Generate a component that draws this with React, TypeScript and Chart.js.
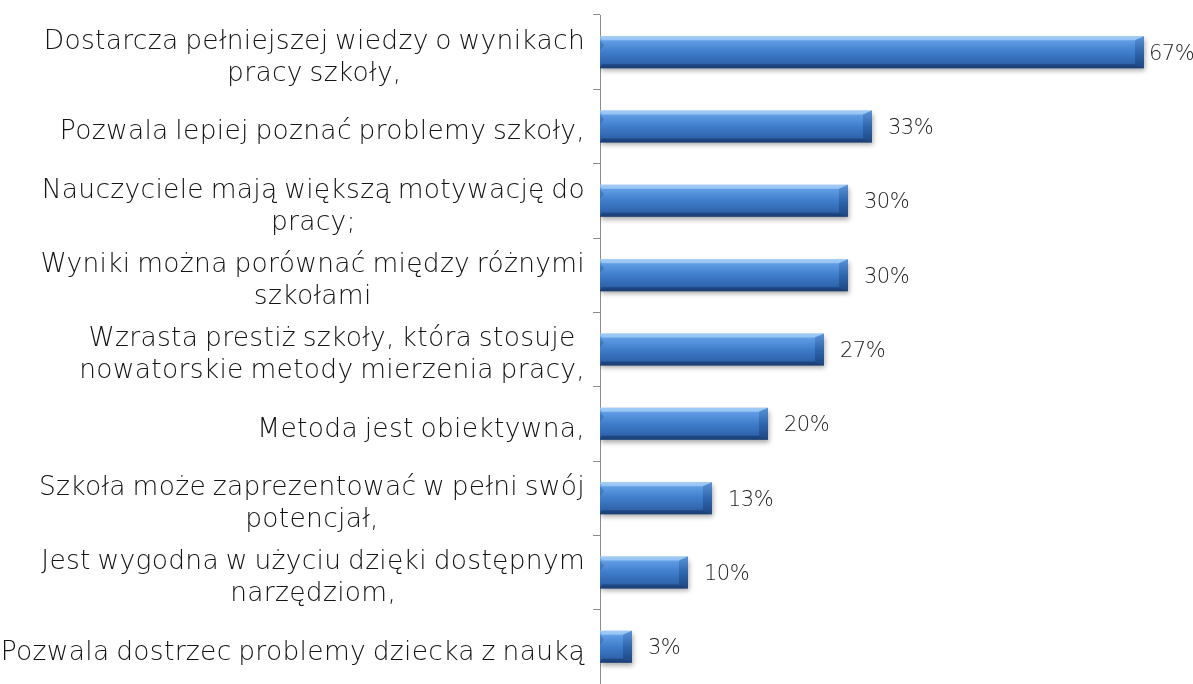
import React, { useEffect, useRef } from 'react';
import { Chart, registerables } from 'chart.js';
Chart.register(...registerables);

const categories: string[][] = [
  ['Dostarcza pełniejszej wiedzy o wynikach', 'pracy szkoły,'],
  ['Pozwala lepiej poznać problemy szkoły,'],
  ['Nauczyciele mają większą motywację do', 'pracy;'],
  ['Wyniki można porównać między różnymi', 'szkołami'],
  ['Wzrasta prestiż szkoły, która stosuje', 'nowatorskie metody mierzenia pracy,'],
  ['Metoda jest obiektywna,'],
  ['Szkoła może zaprezentować w pełni swój', 'potencjał,'],
  ['Jest wygodna w użyciu dzięki dostępnym', 'narzędziom,'],
  ['Pozwala dostrzec problemy dziecka z nauką'],
];
const values: number[] = [67, 33, 30, 30, 27, 20, 13, 10, 3];
const valueLabels: string[] = values.map((v) => v + '%');

const LABEL_FONT = '200 26.5px "DejaVu Sans"';
const VALUE_FONT = '200 21px "DejaVu Sans"';

export default function App() {
  const ref = useRef<HTMLCanvasElement>(null);
  useEffect(() => {
    document.body.style.margin = '0';
    const canvas = ref.current!;

    const barDeco = {
      id: 'barDeco',
      beforeDatasetsDraw(chart: any) {
        const ctx = chart.ctx;
        ctx.save();
        ctx.shadowColor = 'rgba(0,0,0,0.35)';
        ctx.shadowBlur = 5;
        ctx.shadowOffsetY = 3;
        ctx.shadowOffsetX = 1;
      },
      afterDatasetsDraw(chart: any) {
        const ctx = chart.ctx;
        ctx.restore();
        const meta = chart.getDatasetMeta(0);
        ctx.save();
        meta.data.forEach((bar: any) => {
          const x1 = Math.min(bar.base, bar.x);
          const x2 = Math.max(bar.base, bar.x);
          const y1 = bar.y - bar.height / 2;
          const y2 = bar.y + bar.height / 2;
          if (![x1, x2, y1, y2].every(Number.isFinite)) return;
          const b = Math.min(9, (x2 - x1) / 2);
          const t = 4;
          ctx.fillStyle = 'rgba(170,210,250,0.7)';
          ctx.beginPath();
          ctx.moveTo(x1, y1); ctx.lineTo(x2, y1); ctx.lineTo(x2 - b, y1 + t); ctx.lineTo(x1 + 2, y1 + t); ctx.closePath();
          ctx.fill();
          ctx.fillStyle = 'rgba(20,50,100,0.5)';
          ctx.beginPath();
          ctx.moveTo(x1, y2); ctx.lineTo(x2, y2); ctx.lineTo(x2 - b, y2 - t); ctx.lineTo(x1 + 2, y2 - t); ctx.closePath();
          ctx.fill();
          const g = ctx.createLinearGradient(0, y1, 0, y2);
          g.addColorStop(0, '#5a93d8');
          g.addColorStop(0.5, '#2f66ad');
          g.addColorStop(1, '#1d4680');
          ctx.fillStyle = g;
          ctx.beginPath();
          ctx.moveTo(x2, y1); ctx.lineTo(x2, y2); ctx.lineTo(x2 - b, y2 - t); ctx.lineTo(x2 - b, y1 + t); ctx.closePath();
          ctx.fill();
          ctx.fillStyle = 'rgba(30,70,130,0.3)';
          ctx.beginPath();
          ctx.moveTo(x1, y1 + t); ctx.lineTo(x1 + 4, y1 + t + 5); ctx.lineTo(x1, y1 + t + 10); ctx.closePath();
          ctx.fill();
        });
        ctx.restore();

        ctx.save();
        ctx.font = VALUE_FONT;
        ctx.fillStyle = '#1e1e1e';
        ctx.textAlign = 'left';
        ctx.textBaseline = 'middle';
        (ctx as any).letterSpacing = '-0.5px';
        meta.data.forEach((bar: any, i: number) => {
          const txt = valueLabels[i];
          const w = ctx.measureText(txt).width;
          let x = bar.x + 16;
          if (x + w > chart.width - 2) x = bar.x + 5;
          ctx.fillText(txt, x, bar.y + 2);
        });
        ctx.restore();
      },
    };

    const leftLabels = {
      id: 'leftLabels',
      afterDraw(chart: any) {
        const ctx = chart.ctx;
        const ys = chart.scales.y;
        ctx.save();
        ctx.font = LABEL_FONT;
        ctx.fillStyle = '#141414';
        ctx.textAlign = 'center';
        ctx.textBaseline = 'middle';
        (ctx as any).letterSpacing = '0.3px';
        (ctx as any).wordSpacing = '-2px';
        categories.forEach((lines, i) => {
          const yc = ys.getPixelForValue(i) + 6;
          const widest = Math.max(...lines.map((l) => ctx.measureText(l).width));
          const cx = 585 - widest / 2;
          lines.forEach((l, k) => {
            ctx.fillText(l, cx, yc + (k - (lines.length - 1) / 2) * 32);
          });
        });
        ctx.restore();
      },
    };

    const chart = new Chart(canvas, {
      type: 'bar',
      data: {
        labels: categories.map((l) => l.join(' ')),
        datasets: [
          {
            data: values,
            base: -1,
            barPercentage: 0.43,
            categoryPercentage: 1,
            borderWidth: 0,
            backgroundColor: (c: any) => {
              const ch = c.chart;
              const ys = ch.scales && ch.scales.y;
              if (!ys || c.dataIndex === undefined) return '#3f7dcb';
              const yc = ys.getPixelForValue(c.dataIndex);
              if (!Number.isFinite(yc)) return '#3f7dcb';
              const h = 16;
              const g = ch.ctx.createLinearGradient(0, yc - h, 0, yc + h);
              g.addColorStop(0, '#8ebdf0');
              g.addColorStop(0.15, '#5f9ce3');
              g.addColorStop(0.5, '#3f7dcb');
              g.addColorStop(0.85, '#2f64ab');
              g.addColorStop(1, '#1f4a82');
              return g;
            },
          } as any,
        ],
      },
      options: {
        indexAxis: 'y',
        animation: false,
        responsive: true,
        maintainAspectRatio: false,
        layout: { padding: { top: 15, right: 9, bottom: 0, left: 0 } },
        plugins: { legend: { display: false }, tooltip: { enabled: false } },
        scales: {
          x: { type: 'linear', min: -1, max: 72, display: false },
          y: {
            type: 'category',
            offset: true,
            grid: { offset: true, drawOnChartArea: false, drawTicks: true, tickLength: 7, color: '#8c8c8c' },
            border: { display: true, color: '#8c8c8c', width: 1 },
            ticks: { display: false },
            afterFit(scale: any) {
              scale.width = 600;
            },
          },
        },
      },
      plugins: [barDeco, leftLabels],
    } as any);
    return () => chart.destroy();
  }, []);
  return (
    <div style={{ position: 'relative', width: 1193, height: 684 }}>
      <canvas ref={ref} />
    </div>
  );
}
